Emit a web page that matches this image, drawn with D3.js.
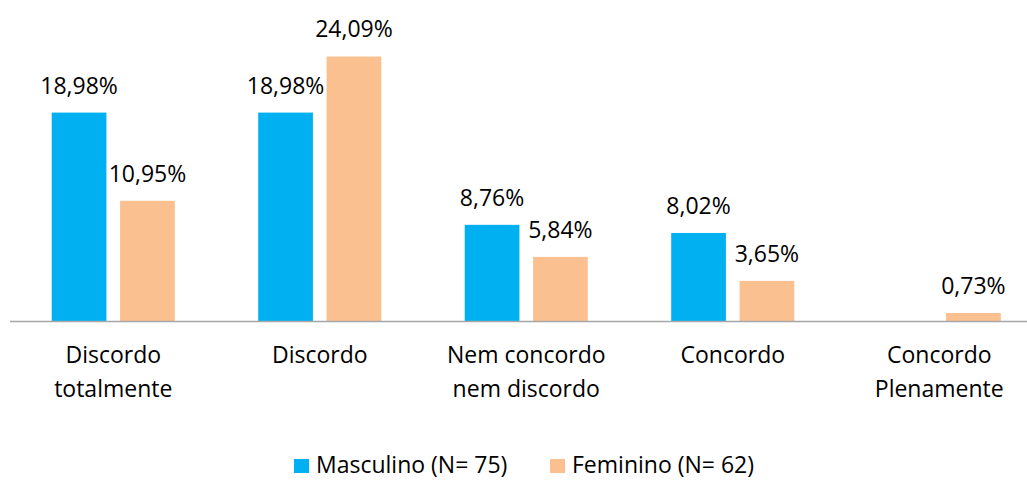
<!DOCTYPE html>
<html>
<head>
<meta charset="utf-8">
<script src="https://cdn.jsdelivr.net/npm/d3@7"></script>
<style>
  body { margin: 0; background: #fff; }
  text { font-family: "Open Sans", sans-serif; fill: #000; }
</style>
</head>
<body>
<script>
var categories = [["Discordo", "totalmente"], ["Discordo"], ["Nem concordo", "nem discordo"], ["Concordo"], ["Concordo", "Plenamente"]];
var seriesNames = ["Masculino (N= 75)", "Feminino (N= 62)"];
var masculino = [18.98, 18.98, 8.76, 8.02, 0];
var feminino = [10.95, 24.09, 5.84, 3.65, 0.73];
var colors = ["#00B0F0", "#FAC090"];

var width = 1027;
var height = 480;

var svg = d3.select("body").append("svg")
    .attr("width", width)
    .attr("height", height);

var ptBR = d3.formatLocale({ decimal: ",", thousands: ".", grouping: [3], currency: ["R$", ""] });
var fmt = ptBR.format(".2f");

var catKeys = categories.map(function (c) { return c.join(" "); });
var data = catKeys.map(function (k, i) {
    return { key: k, lines: categories[i], values: [masculino[i], feminino[i]] };
});

var x0 = d3.scaleBand()
    .domain(catKeys)
    .range([10, 1042.5])
    .padding(0);

var x1 = d3.scaleBand()
    .domain([0, 1])
    .range([0, x0.bandwidth()])
    .paddingInner(0.2)
    .paddingOuter(0.61);

var y = d3.scaleLinear()
    .domain([0, 25])
    .range([321, 46.5]);

var groups = svg.append("g").selectAll("g")
    .data(data)
    .enter().append("g")
    .attr("transform", function (d) { return "translate(" + x0(d.key) + ",0)"; });

groups.selectAll("rect")
    .data(function (d) { return d.values; })
    .enter().append("rect")
    .attr("x", function (d, i) { return x1(i); })
    .attr("y", function (d) { return y(d); })
    .attr("width", x1.bandwidth())
    .attr("height", function (d) { return y(0) - y(d); })
    .attr("fill", function (d, i) { return colors[i]; });

// value labels (zero values get no label)
groups.selectAll("text.val")
    .data(function (d) { return d.values; })
    .enter().append("text")
    .attr("class", "val")
    .attr("x", function (d, i) { return x1(i) + x1.bandwidth() / 2; })
    .attr("y", function (d) { return y(d) - 19; })
    .attr("text-anchor", "middle")
    .style("font-size", "23px")
    .text(function (d) { return d > 0 ? fmt(d) + "%" : ""; });

// axis
var xAxis = svg.append("g")
    .attr("transform", "translate(0," + y(0) + ")")
    .call(d3.axisBottom(x0).tickSize(0).tickSizeOuter(0));

xAxis.select(".domain")
    .attr("stroke", "#A6A6A6")
    .attr("stroke-width", 1.5)
    .attr("d", "M10,0.5H" + width);

xAxis.selectAll(".tick text").each(function (k, i) {
    var t = d3.select(this).text(null)
        .attr("y", 0)
        .attr("dy", null)
        .style("font-size", "23px")
        .attr("fill", "#000");
    data[i].lines.forEach(function (line, j) {
        t.append("tspan")
            .attr("x", 0)
            .attr("y", 42 + j * 34)
            .text(line);
    });
});

// legend
var legend = svg.append("g").attr("transform", "translate(294,457)");
var legX = [0, 256];
seriesNames.forEach(function (name, i) {
    var lg = legend.append("g").attr("transform", "translate(" + legX[i] + ",0)");
    lg.append("rect")
        .attr("y", 2)
        .attr("width", 15)
        .attr("height", 14)
        .attr("fill", colors[i]);
    lg.append("text")
        .attr("x", 22)
        .attr("y", 16)
        .style("font-size", "23px")
        .text(name);
});
</script>
</body>
</html>
